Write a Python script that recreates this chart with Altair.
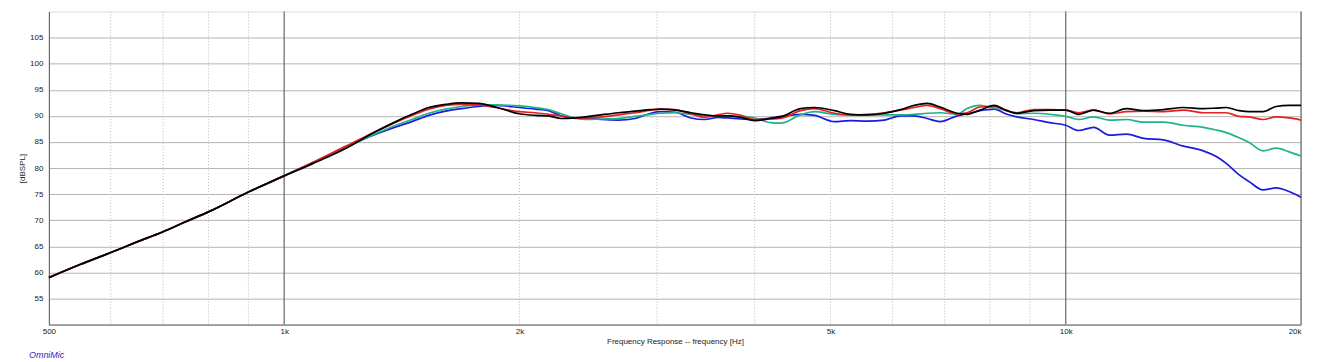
import altair as alt
import pandas as pd

# Frequencies (Hz) shared by all four curves
FREQ = [500, 548, 600, 647, 700, 748, 800, 900, 1000,
        1086, 1200, 1310, 1390, 1457, 1531, 1609, 1687, 1773, 1864,
        2000, 2096, 2178, 2262, 2358, 2428, 2544, 2675, 2812, 2946,
        3035, 3162, 3314, 3454, 3588, 3695, 3839, 4000, 4193, 4318,
        4578, 4770, 5059, 5300, 5573, 5860, 6144, 6399, 6648, 6905,
        7261, 7477, 7768, 8097, 8408, 8659, 9102, 9541, 10000, 10390,
        10857, 11374, 11961, 12577, 13337, 14142, 14997, 15582, 16043, 16669,
        17164, 17886, 18584, 19307, 20000]

LOW = [59.0, 61.5, 63.8, 65.8, 67.8, 69.7, 71.6, 75.4, 78.5]

BLACK = LOW + [
    80.8, 83.8, 87.0, 88.9, 90.3, 91.6, 92.2, 92.5, 92.4, 91.7,
    90.4, 90.1, 90.0, 89.5, 89.6, 89.8, 90.2, 90.6, 90.9, 91.2,
    91.3, 91.1, 90.6, 90.2, 90.0, 90.0, 89.7, 89.1, 89.5, 89.8,
    91.4, 91.6, 91.0, 90.3, 90.2, 90.5, 91.2, 92.0, 92.4, 91.7,
    90.5, 90.3, 91.1, 92.0, 91.0, 90.5, 91.0, 91.1, 91.1, 90.3,
    91.1, 90.5, 91.4, 91.0, 91.2, 91.6, 91.4, 91.5, 91.6, 91.0,
    90.8, 90.8, 91.8, 92.0, 92.0]

RED = LOW + [
    81.0, 84.2, 87.0, 88.8, 90.1, 91.3, 92.0, 92.2, 92.1, 91.6,
    90.8, 90.6, 90.3, 90.0, 89.5, 89.6, 89.8, 90.2, 90.6, 91.1,
    91.3, 91.2, 90.4, 89.7, 90.2, 90.5, 90.1, 89.3, 89.4, 89.5,
    91.0, 91.4, 90.5, 90.2, 90.3, 90.6, 91.1, 91.6, 92.0, 91.4,
    90.4, 90.6, 91.7, 91.8, 91.0, 90.6, 91.2, 91.2, 91.1, 90.6,
    91.1, 90.4, 90.8, 90.9, 90.8, 91.1, 90.6, 90.6, 90.6, 89.9,
    89.8, 89.3, 89.8, 89.6, 89.2]

TEAL = LOW + [
    80.9, 84.0, 86.6, 88.2, 89.3, 90.5, 91.3, 91.8, 92.1, 92.1,
    91.9, 91.6, 91.2, 90.4, 89.6, 89.3, 89.4, 89.5, 89.9, 90.3,
    90.5, 90.6, 90.3, 90.1, 90.0, 90.0, 89.9, 89.6, 88.7, 88.6,
    90.2, 90.8, 90.3, 90.2, 90.2, 90.2, 90.2, 90.3, 90.5, 90.6,
    90.3, 91.4, 92.0, 91.5, 91.0, 90.4, 90.5, 90.3, 89.9, 89.3,
    89.8, 89.2, 89.3, 88.8, 88.8, 88.2, 87.8, 87.3, 86.8, 85.8,
    84.9, 83.3, 83.8, 83.1, 82.3]

BLUE = LOW + [
    81.0, 84.1, 86.5, 87.9, 88.9, 90.1, 90.9, 91.4, 91.8, 92.0,
    91.6, 91.3, 91.0, 90.0, 89.6, 89.5, 89.3, 89.2, 89.5, 90.5,
    90.8, 90.7, 89.6, 89.3, 89.7, 89.6, 89.4, 89.3, 89.6, 89.9,
    90.3, 90.1, 88.9, 89.1, 89.0, 89.2, 90.0, 90.0, 89.5, 88.9,
    90.0, 90.4, 91.0, 91.3, 90.3, 89.8, 89.3, 88.7, 88.2, 87.2,
    87.8, 86.3, 86.5, 85.7, 85.4, 84.2, 83.3, 82.2, 80.9, 78.7,
    77.4, 75.8, 76.2, 75.5, 74.4]

SERIES = [("blue", BLUE, "#1b1be0"), ("teal", TEAL, "#1fb38b"),
          ("red", RED, "#e62020"), ("black", BLACK, "#000000")]

X_TICKS = [500, 1000, 2000, 5000, 10000, 20000]
X_LABELS = ["500", "1k", "2k", "5k", "10k", "20k"]
MINOR_X = [600, 700, 800, 900, 2000, 3000, 4000, 5000, 6000, 7000, 8000, 9000]
MAJOR_X = [1000, 10000, 20000]
Y_TICKS = [55, 60, 65, 70, 75, 80, 85, 90, 95, 100, 105]

FONT = "Liberation Sans"

label_expr = " : ".join(
    f"datum.value == {v} ? '{l}'" for v, l in zip(X_TICKS, X_LABELS)) + " : ''"

x_scale = alt.Scale(type="log", domain=[500, 20000], nice=False)
y_scale = alt.Scale(domain=[50, 110], nice=False, zero=False)

x_axis = alt.Axis(values=X_TICKS, labelExpr=label_expr, ticks=False, grid=False,
                  labelFlush=False,
                  labelAlign=alt.ExprRef("datum.value >= 20000 ? 'right' : 'center'"),
                  domainColor="#555555", labelFontSize=8, labelColor="#222222",
                  labelPadding=3, labelFont=FONT,
                  title="Frequency Response -- frequency [Hz]", titleFont=FONT,
                  titleFontSize=8, titleFontWeight="normal", titleColor="#222222",
                  titlePadding=2)
y_axis = alt.Axis(values=Y_TICKS, ticks=False, grid=True, gridColor="#b4b4b4",
                  gridWidth=1, domainColor="#555555", labelFontSize=8,
                  labelColor="#222222", labelPadding=6, labelFont=FONT,
                  title="[dBSPL]", titleFont=FONT, titleFontSize=8,
                  titleFontWeight="normal", titleColor="#222222", titlePadding=3)

minor_df = pd.DataFrame({"f": MINOR_X})
major_df = pd.DataFrame({"f": MAJOR_X})

minor = alt.Chart(minor_df).mark_rule(color="#b8b8b8", strokeWidth=1,
                                      strokeDash=[1, 2]).encode(
    x=alt.X("f:Q", scale=x_scale, axis=x_axis))
major = alt.Chart(major_df).mark_rule(color="#666666", strokeWidth=1.2).encode(
    x=alt.X("f:Q", scale=x_scale, axis=x_axis))

layers = [minor, major]
for name, vals, col in SERIES:
    df = pd.DataFrame({"f": FREQ, "v": vals})
    layers.append(
        alt.Chart(df).mark_line(color=col, strokeWidth=1.7, interpolate="monotone").encode(
            x=alt.X("f:Q", scale=x_scale, axis=x_axis),
            y=alt.Y("v:Q", scale=y_scale, axis=y_axis)))

chart = alt.layer(*layers).properties(
    width=1256, height=314,
    autosize=alt.AutoSizeParams(type="none"),
    padding={"left": 41, "top": 3, "right": 8, "bottom": 34},
    title=alt.TitleParams("OmniMic", orient="bottom", anchor="start", frame="group",
                          dx=-20, offset=6, fontSize=9, font=FONT, fontStyle="italic",
                          fontWeight="normal", color="#2a2ad0"),
).configure_view(stroke="#aaaaaa", strokeWidth=1).configure(background="white")

chart.save("out.html", embed_options={"renderer": "svg", "actions": False})
